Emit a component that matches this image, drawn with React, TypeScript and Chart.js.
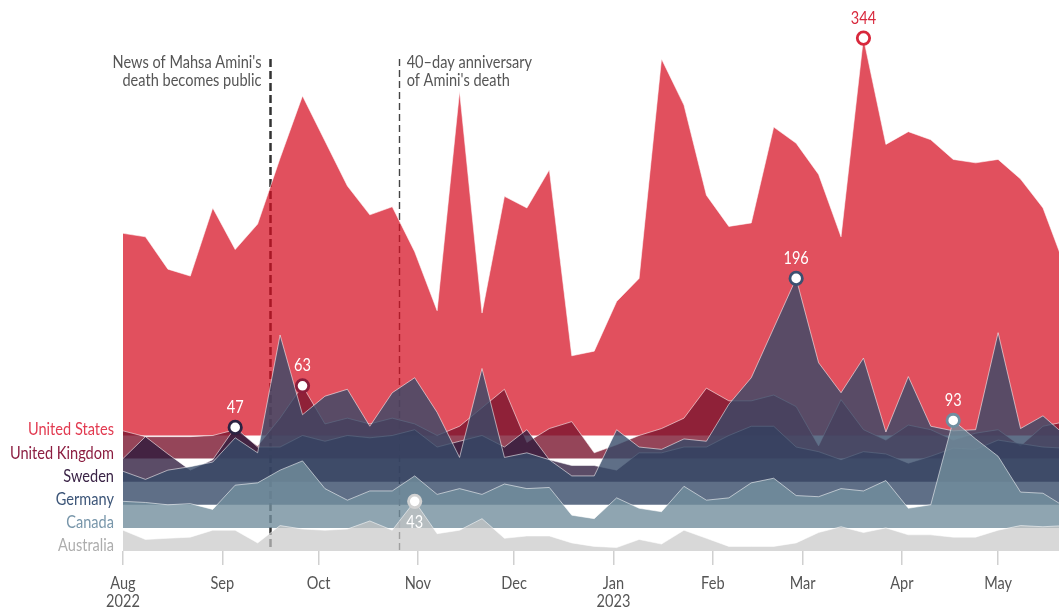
import React, { useEffect, useRef } from "react";
import { Chart, registerables } from "chart.js";

Chart.register(...registerables);

const FONT_FAMILY = "Lato, 'Noto Sans', sans-serif";
const FONT_SIZE = 17.5;

// Weekly observations, days after 1 Aug 2022
const weekDays = [0, 7, 14, 21, 28, 35, 42, 49, 56, 63, 70, 77, 84, 91, 98, 105, 112, 119, 126, 133, 140, 147, 154, 161, 168, 175, 182, 189, 196, 203, 210, 217, 224, 231, 238, 245, 252, 259, 266, 273, 280, 287, 294];

const countries = ["United States", "United Kingdom", "Sweden", "Germany", "Canada", "Australia"];
const rowOffsets = [100, 80, 60, 40, 20, 0];

const unitedStates = [175, 172, 144, 138, 197, 161, 183, 240, 294, 255, 216, 191, 198, 159, 108, 298, 106, 207, 197, 230, 69, 73, 116, 136, 326, 286, 208, 181, 184, 267, 253, 226, 172, 344, 252, 263, 256, 239, 236, 239, 222, 197, 145];
const unitedKingdom = [24, 19, 19, 19, 20, 25, 11, 35, 63, 30, 35, 30, 35, 30, 20, 28, 44, 60, 14, 26, 32, 5, 12, 20, 26, 35, 61, 50, 50, 55, 45, 11, 51, 25, 16, 29, 25, 16, 22, 25, 11, 28, 32];
const sweden = [20, 39, 24, 10, 19, 47, 30, 30, 40, 35, 40, 38, 40, 45, 30, 35, 40, 30, 45, 19, 14, 14, 10, 25, 25, 30, 30, 40, 48, 48, 30, 26, 19, 26, 24, 16, 22, 29, 28, 36, 33, 30, 29];
const germany = [29, 22, 30, 33, 37, 58, 45, 147, 78, 94, 100, 68, 97, 110, 80, 41, 118, 41, 45, 39, 25, 25, 65, 50, 48, 57, 55, 87, 110, 153, 196, 123, 97, 127, 63, 111, 68, 64, 65, 149, 66, 77, 60];
const canada = [23, 22, 20, 21, 16, 37, 39, 50, 58, 34, 24, 32, 32, 45, 29, 34, 29, 38, 34, 35, 11, 8, 26, 17, 14, 36, 24, 26, 39, 43, 28, 27, 34, 32, 41, 17, 20, 93, 77, 62, 31, 30, 18];
const australia = [18, 10, 11, 12, 18, 18, 7, 22, 19, 18, 19, 26, 18, 43, 15, 18, 28, 11, 13, 13, 7, 4, 3, 10, 6, 18, 11, 4, 4, 4, 7, 16, 21, 16, 20, 14, 14, 12, 12, 18, 22, 21, 22];

const seriesValues = [unitedStates, unitedKingdom, sweden, germany, canada, australia];

const fillColors = [
  "rgba(214,12,32,0.72)",
  "rgba(122,22,48,0.8)",
  "rgba(45,25,60,0.78)",
  "rgba(55,75,105,0.8)",
  "rgba(115,142,157,0.8)",
  "rgba(199,199,200,0.7)",
];
const labelColors = ["#e23a50", "#8c1e41", "#3a2346", "#3c5578", "#7896aa", "#adadad"];
const markerColors = ["#d8283c", "#8b1e3c", "#2c2342", "#3c5070", "#6f8ea0", "#d2d2d2"];

// Peak markers: [row, week index]
const highlightRows = [0, 1, 2, 3, 4, 5];
const highlightWeeks = [33, 8, 5, 30, 37, 13];

const tickDays = [0, 31, 61, 92, 122, 153, 184, 212, 243, 273];
const tickLabels: string[][] = [["Aug", "2022"], ["Sep"], ["Oct"], ["Nov"], ["Dec"], ["Jan", "2023"], ["Feb"], ["Mar"], ["Apr"], ["May"]];

const eventDays = [46, 86];
const eventLabels = [
  ["News of Mahsa Amini's", "death becomes public"],
  ["40\u2013day anniversary", "of Amini's death"],
];

function narrowText(ctx: CanvasRenderingContext2D, text: string, x: number, y: number, sx: number) {
  ctx.save();
  ctx.translate(x, y);
  ctx.scale(sx, 1);
  ctx.fillText(text, 0, 0);
  ctx.restore();
}

const ridgePlugin = {
  id: "ridge",
  beforeDatasetsDraw(chart: any) {
    const { ctx } = chart;
    const x = chart.scales.x;
    const y = chart.scales.y;
    eventDays.forEach((d, i) => {
      const px = Math.round(x.getPixelForValue(d)) + 0.5;
      ctx.save();
      ctx.strokeStyle = i === 0 ? "#333" : "#444";
      ctx.lineWidth = i === 0 ? 2.5 : 1.4;
      ctx.setLineDash(i === 0 ? [8, 4] : [7, 4]);
      ctx.beginPath();
      ctx.moveTo(px, 59);
      ctx.lineTo(px, y.getPixelForValue(0));
      ctx.stroke();
      ctx.restore();
    });
  },
  afterDraw(chart: any) {
    const { ctx, chartArea } = chart;
    const x = chart.scales.x;
    const y = chart.scales.y;
    ctx.save();
    ctx.font = `${FONT_SIZE}px ${FONT_FAMILY}`;
    const sx = 86 / ctx.measureText("United States").width;
    // row labels
    ctx.textAlign = "right";
    ctx.textBaseline = "alphabetic";
    countries.forEach((name, i) => {
      ctx.fillStyle = labelColors[i];
      narrowText(ctx, name, chartArea.left - 9, y.getPixelForValue(rowOffsets[i]), sx);
    });
    // x tick labels at the axis' ticks
    ctx.fillStyle = "#555";
    ctx.textAlign = "center";
    ctx.textBaseline = "middle";
    x.ticks.forEach((_t: any, i: number) => {
      const px = x.getPixelForTick(i);
      tickLabels[i].forEach((line, k) => narrowText(ctx, line, px, 583 + k * 18, sx));
    });
    // event annotations
    eventDays.forEach((d, i) => {
      const px = x.getPixelForValue(d);
      ctx.textAlign = i === 0 ? "right" : "left";
      const tx = i === 0 ? px - 9 : px + 8;
      eventLabels[i].forEach((line, k) => narrowText(ctx, line, tx, 62 + k * 18.5, sx));
    });
    // markers
    highlightRows.forEach((row, j) => {
      const wk = highlightWeeks[j];
      const val = seriesValues[row][wk];
      const px = x.getPixelForValue(weekDays[wk]);
      const py = y.getPixelForValue(rowOffsets[row] + val);
      ctx.beginPath();
      ctx.arc(px, py, 6.2, 0, Math.PI * 2);
      ctx.fillStyle = "#fff";
      ctx.fill();
      ctx.lineWidth = 2.8;
      ctx.strokeStyle = markerColors[row];
      ctx.stroke();
      ctx.textAlign = "center";
      ctx.textBaseline = "middle";
      ctx.fillStyle = row === 0 ? "#d8283c" : "#ffffff";
      const ly = row === 5 ? py + 21 : py - 20;
      narrowText(ctx, String(val), px, ly, sx);
    });
    ctx.restore();
  },
};

export default function App() {
  const canvasRef = useRef<HTMLCanvasElement>(null);
  useEffect(() => {
    const canvas = canvasRef.current!;
    const datasets = countries.map((name, i) => ({
      label: name,
      data: weekDays.map((d, k) => ({ x: d, y: rowOffsets[i] + seriesValues[i][k] })),
      backgroundColor: fillColors[i],
      borderColor: "rgba(255,255,255,0.55)",
      borderWidth: 1,
      pointRadius: 0,
      tension: 0,
      fill: { value: rowOffsets[i] },
      order: countries.length - 1 - i,
    }));
    const chart = new Chart(canvas, {
      type: "line",
      data: { datasets } as any,
      options: {
        animation: false,
        responsive: false,
        maintainAspectRatio: false,
        events: [],
        layout: { padding: { left: 123, right: 0, top: 0, bottom: 0 } },
        plugins: { legend: { display: false }, tooltip: { enabled: false } },
        scales: {
          x: {
            type: "linear",
            min: 0,
            max: 292,
            afterBuildTicks: (s: any) => {
              s.ticks = tickDays.map((v) => ({ value: v }));
            },
            afterFit: (s: any) => {
              s.height = 57;
            },
            ticks: { display: false },
            grid: { drawOnChartArea: false, drawTicks: true, tickLength: 14, color: "#d0d0d0", lineWidth: 1.5 },
            border: { display: false },
          },
          y: { display: false, min: 0, max: 477 },
        },
      } as any,
      plugins: [ridgePlugin],
    });
    return () => chart.destroy();
  }, []);
  return (
    <div style={{ position: "fixed", left: 0, top: 0, width: 1059, height: 608, background: "#fff" }}>
      <canvas ref={canvasRef} width={1059} height={608} style={{ display: "block" }} />
    </div>
  );
}
